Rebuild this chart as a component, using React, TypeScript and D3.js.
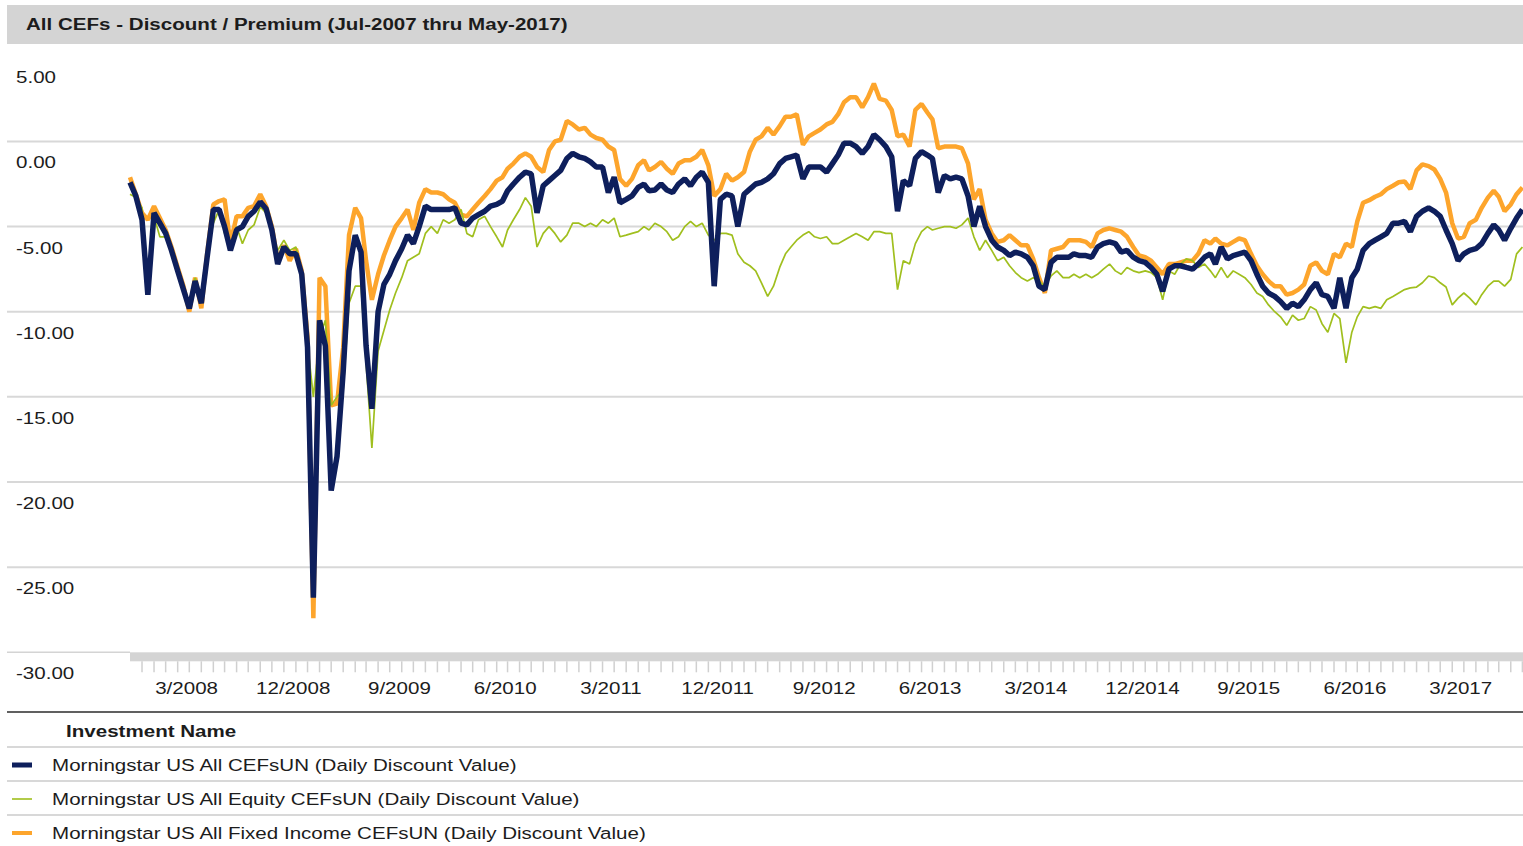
import { useEffect, useRef } from "react";
import * as d3 from "d3";

// Morningstar-style CEF discount/premium chart, half-month samples Jul-2007 .. May-2017

const W = 1523;
const H = 846;

const TITLE = "All CEFs - Discount / Premium (Jul-2007 thru May-2017)";
const LEGEND_HEADER = "Investment Name";

const SERIES_NAMES = [
  "Morningstar US All CEFsUN (Daily Discount Value)",
  "Morningstar US All Equity CEFsUN (Daily Discount Value)",
  "Morningstar US All Fixed Income CEFsUN (Daily Discount Value)",
];

const Y_TICKS = [5, 0, -5, -10, -15, -20, -25, -30];
const X_LABELS = ["3/2008", "12/2008", "9/2009", "6/2010", "3/2011", "12/2011", "9/2012",
  "6/2013", "3/2014", "12/2014", "9/2015", "6/2016", "3/2017"];

// first and last sample (samples on the 1st and 16th of each month)
const START = "2007-07-01";
const END = "2017-05-01";

const ALL_CEFS = [
  -2.4, -3.2, -4.6, -9.0, -4.2, -4.8, -5.4, -6.4, -7.6, -8.7,
  -9.8, -8.2, -9.5, -6.8, -4.0, -4.0, -5.0, -6.4, -5.2, -5.0,
  -4.4, -4.1, -3.55, -3.95, -5.2, -7.2, -6.2, -6.6, -6.6, -7.8,
  -12.1, -26.8, -10.5, -12.0, -20.5, -18.5, -13.5, -7.6, -5.5, -6.5,
  -12.0, -15.7, -10.0, -8.4, -7.8, -7.0, -6.3, -5.5, -6.0, -5.0,
  -3.8, -4.0, -4.0, -4.0, -4.0, -3.9, -4.8, -4.9, -4.5, -4.3,
  -4.1, -3.8, -3.7, -3.5, -2.9, -2.5, -2.1, -1.8, -1.9, -4.2,
  -2.6, -2.3, -2.0, -1.7, -1.0, -0.7, -0.9, -1.0, -1.2, -1.5,
  -1.5, -3.0, -2.1, -3.6, -3.4, -3.2, -2.7, -2.5, -2.9, -2.85,
  -2.5, -2.85, -3.0, -2.5, -2.2, -2.6, -2.1, -1.8, -2.4, -8.5,
  -3.4, -3.1, -3.2, -5.0, -3.1, -2.8, -2.5, -2.4, -2.2, -1.9,
  -1.3, -1.0, -0.9, -0.8, -2.2, -1.5, -1.5, -1.5, -1.8, -1.3,
  -0.8, -0.1, -0.1, -0.3, -0.7, -0.3, 0.4, 0.1, -0.3, -0.9,
  -4.1, -2.3, -2.6, -1.0, -0.6, -0.8, -1.0, -3.0, -2.0, -2.2,
  -2.1, -2.2, -3.2, -5.0, -3.8, -5.0, -5.8, -6.2, -6.4, -6.7,
  -6.5, -6.6, -6.8, -7.3, -8.5, -8.7, -7.1, -6.8, -6.8, -6.8,
  -6.6, -6.7, -6.7, -6.8, -6.2, -6.0, -5.9, -6.0, -6.5, -6.4,
  -6.8, -7.0, -7.1, -7.4, -7.8, -8.8, -7.5, -7.3, -7.3, -7.4,
  -7.5, -7.2, -6.8, -6.6, -7.2, -6.2, -6.9, -6.7, -6.6, -6.5,
  -7.0, -7.8, -8.5, -8.9, -9.1, -9.4, -9.8, -9.5, -9.7, -9.3,
  -8.7, -8.3, -9.0, -9.1, -9.8, -8.0, -9.8, -8.0, -7.5, -6.4,
  -6.0, -5.8, -5.6, -5.4, -4.8, -4.8, -4.7, -5.3, -4.4, -4.1,
  -3.9, -4.1, -4.4, -5.2, -6.0, -7.0, -6.6, -6.4, -6.3, -6.0,
  -5.4, -4.9, -5.2, -5.8, -5.1, -4.5, -4.0,
];

const EQUITY_CEFS = [
  -3.1, -3.3, -3.9, -9.0, -4.4, -5.6, -5.6, -6.4, -7.8, -8.5,
  -9.5, -8.0, -9.2, -6.6, -4.8, -4.0, -5.4, -6.2, -5.0, -6.0,
  -5.2, -4.9, -3.85, -4.2, -5.4, -6.4, -5.8, -6.4, -6.2, -7.6,
  -11.9, -15.0, -11.5, -10.5, -15.5, -15.0, -14.6, -9.5, -8.5, -8.5,
  -13.0, -18.0, -12.3, -11.1, -9.9, -8.9, -8.0, -7.0, -6.8, -6.6,
  -5.4, -5.0, -5.4, -4.6, -4.8, -4.6, -4.0, -5.4, -5.6, -4.6,
  -4.4, -5.0, -5.6, -6.2, -5.2, -4.6, -4.0, -3.3, -3.8, -6.2,
  -5.4, -5.0, -5.4, -5.9, -5.5, -4.8, -4.8, -5.0, -4.8, -5.0,
  -4.6, -4.8, -4.5, -5.6, -5.5, -5.4, -5.3, -5.0, -5.2, -4.8,
  -5.0, -5.3, -5.8, -5.6, -5.0, -4.7, -5.0, -4.8, -5.5, -5.8,
  -5.4, -5.4, -5.5, -6.6, -7.1, -7.3, -7.6, -8.3, -9.1, -8.5,
  -7.4, -6.6, -6.2, -5.8, -5.5, -5.3, -5.6, -5.7, -5.6, -6.0,
  -6.0, -5.8, -5.6, -5.4, -5.6, -5.8, -5.3, -5.3, -5.4, -5.4,
  -8.7, -7.0, -7.2, -6.0, -5.3, -5.0, -5.2, -5.1, -5.0, -5.0,
  -5.1, -4.9, -4.5, -5.6, -6.4, -5.8, -6.4, -7.0, -6.8, -7.3,
  -7.7, -8.0, -8.2, -8.0, -8.2, -8.5, -7.9, -7.6, -8.0, -8.0,
  -7.8, -8.0, -7.8, -8.0, -7.8, -7.5, -7.2, -7.6, -7.8, -7.4,
  -7.6, -7.7, -7.6, -7.7, -8.0, -9.3, -7.6, -7.8, -7.2, -6.9,
  -7.0, -7.4, -7.2, -7.6, -8.0, -7.4, -8.0, -7.6, -7.8, -8.0,
  -8.4, -8.9, -9.1, -9.6, -10.0, -10.3, -10.8, -10.2, -10.5, -10.4,
  -9.7, -9.9, -10.7, -11.2, -10.1, -10.4, -13.0, -11.2, -10.3, -9.7,
  -9.8, -9.7, -9.8, -9.3, -9.1, -8.9, -8.7, -8.6, -8.55, -8.3,
  -7.9, -8.0, -8.3, -8.55, -9.6, -9.2, -8.9, -9.2, -9.6, -9.0,
  -8.5, -8.2, -8.2, -8.5, -8.1, -6.6, -6.2,
];

const FIXED_INCOME_CEFS = [
  -2.1, -3.1, -4.2, -4.6, -3.8, -4.5, -5.2, -6.2, -7.4, -8.5,
  -10.0, -8.0, -9.8, -6.6, -3.7, -3.5, -3.4, -6.0, -4.4, -4.4,
  -3.9, -3.8, -3.1, -3.8, -5.0, -7.0, -6.1, -7.0, -6.3, -7.6,
  -11.5, -28.0, -8.0, -8.5, -15.5, -15.4, -12.1, -5.5, -3.9, -4.5,
  -7.0, -9.3, -7.8, -6.7, -5.8, -5.0, -4.5, -4.0, -5.2, -3.6,
  -2.8, -3.0, -3.0, -3.1, -3.4, -3.6, -4.3, -4.4, -4.0, -3.6,
  -3.2, -2.8, -2.3, -2.1, -1.6, -1.3, -0.9, -0.7, -0.9, -1.5,
  -1.8, -0.5, 0.0, 0.1, 1.2, 1.0, 0.7, 0.8, 0.4, 0.2,
  0.1, -0.3, -0.5, -2.2, -2.6, -2.2, -1.4, -1.1, -1.7, -1.5,
  -1.2, -1.6, -1.9, -1.3, -1.1, -1.1, -0.9, -0.5, -1.4, -3.2,
  -2.8, -1.9, -2.3, -2.1, -1.8, -0.6, 0.1, 0.3, 0.8, 0.4,
  0.9, 1.45, 1.45, 1.6, -0.2, 0.3, 0.5, 0.7, 1.0, 1.15,
  1.6, 2.3, 2.6, 2.6, 2.0, 2.6, 3.4, 2.5, 2.4, 1.85,
  0.3, 0.4, -0.3, 1.85, 2.2, 1.7, 1.3, -0.4, -0.3, -0.3,
  -0.3, -0.4, -1.3, -3.4, -2.8, -4.6, -5.4, -5.9, -5.8, -5.5,
  -5.8, -6.1, -6.1, -6.9, -8.0, -8.9, -6.4, -6.3, -6.2, -5.8,
  -5.8, -5.8, -5.9, -6.2, -5.4, -5.2, -5.1, -5.2, -5.3, -5.6,
  -6.2, -6.7, -6.8, -7.0, -7.4, -7.8, -7.2, -7.2, -7.1, -7.0,
  -7.0, -6.6, -5.8, -6.0, -5.7, -6.0, -6.1, -5.9, -5.7, -5.8,
  -6.6, -7.3, -7.8, -8.2, -8.5, -8.5, -9.0, -8.9, -8.7, -8.4,
  -7.3, -7.1, -7.6, -7.8, -6.6, -6.8, -6.0, -6.2, -4.7, -3.6,
  -3.45, -3.25, -3.1, -2.8, -2.6, -2.4, -2.35, -2.8, -1.7, -1.35,
  -1.45, -1.65, -2.2, -3.0, -4.8, -5.7, -5.6, -4.8, -4.6, -3.9,
  -3.3, -2.9, -3.25, -4.1, -3.7, -3.1, -2.7,
];

const NAVY = "#0e1f5c";
const GREEN = "#a0bf1e";
const ORANGE = "#fda52c";

const FONT = "'Liberation Sans', Arial, sans-serif";
const TEXT_SX = 1.21; // source renders text stretched horizontally

const PLOT = { left: 130, right: 1522.4, top: 56.3, bottom: 652.3 };

function sampleDates(n: number) {
  const start = d3.timeParse("%Y-%m-%d")(START)!;
  return d3.range(n).map((i) => {
    const m = d3.timeMonth.offset(start, Math.floor(i / 2));
    return i % 2 ? d3.timeDay.offset(m, 15) : m;
  });
}

export default function App() {
  const svgRef = useRef<SVGSVGElement>(null);

  useEffect(() => {
    if (!svgRef.current) return;
    const svg = d3.select(svgRef.current);
    svg.selectAll("*").remove();

    const parse = d3.timeParse("%Y-%m-%d");
    const x = d3.scaleTime()
      .domain([parse(START)!, parse(END)!])
      .range([PLOT.left, PLOT.right]);
    const y = d3.scaleLinear().domain([-30, 5]).range([PLOT.bottom, PLOT.top]);

    const text = (px: number, py: number, s: string, size = 17, weight = "400", anchor = "start", fill = "#1c1c1c") =>
      svg.append("text")
        .attr("transform", `translate(${px},${py}) scale(${TEXT_SX},1)`)
        .attr("font-family", FONT)
        .attr("font-size", size)
        .attr("font-weight", weight)
        .attr("text-anchor", anchor)
        .attr("fill", fill)
        .text(s);

    svg.append("rect").attr("width", W).attr("height", H).attr("fill", "#fff");

    // ── Title bar ──
    svg.append("rect")
      .attr("x", 7).attr("y", 5).attr("width", W - 7).attr("height", 39)
      .attr("fill", "#d4d4d4");
    text(26, 30, TITLE, 17, "700");

    // ── Grid lines ──
    Y_TICKS.filter((v) => v < 5 && v > -30).forEach((v) => {
      svg.append("line")
        .attr("x1", 7).attr("x2", W)
        .attr("y1", y(v)).attr("y2", y(v))
        .attr("stroke", "#d8d8d8").attr("stroke-width", 2);
    });

    // ── Y labels (sit just below their grid line) ──
    Y_TICKS.forEach((v) => text(16, y(v) + 27, v.toFixed(2)));

    // ── Series ──
    const n = Math.min(ALL_CEFS.length, EQUITY_CEFS.length, FIXED_INCOME_CEFS.length);
    const dates = sampleDates(n);
    const line = d3.line<number>()
      .x((_, i) => x(dates[i]))
      .y((d) => y(d));

    const series = [
      { values: FIXED_INCOME_CEFS, color: ORANGE, width: 4.5 },
      { values: EQUITY_CEFS, color: GREEN, width: 1.7 },
      { values: ALL_CEFS, color: NAVY, width: 5.5 },
    ];
    series.forEach((s) => {
      svg.append("path")
        .datum(s.values.slice(0, n))
        .attr("d", line)
        .attr("fill", "none")
        .attr("stroke", s.color)
        .attr("stroke-width", s.width)
        .attr("stroke-linejoin", "bevel");
    });

    // ── X axis band + monthly ticks ──
    svg.append("line")
      .attr("x1", 7).attr("x2", PLOT.left)
      .attr("y1", PLOT.bottom).attr("y2", PLOT.bottom)
      .attr("stroke", "#d4d4d4").attr("stroke-width", 1.5);
    svg.append("rect")
      .attr("x", PLOT.left).attr("y", PLOT.bottom)
      .attr("width", W - PLOT.left).attr("height", 9)
      .attr("fill", "#d4d4d4");

    const [d0, d1] = x.domain();
    const months = d3.timeMonth.range(d3.timeMonth.offset(d0, 1), d3.timeMonth.offset(d1, 1));
    svg.append("g")
      .selectAll("line")
      .data(months)
      .enter()
      .append("line")
      .attr("x1", (d) => x(d)).attr("x2", (d) => x(d))
      .attr("y1", PLOT.bottom + 9).attr("y2", PLOT.bottom + 20)
      .attr("stroke", "#d0d0d0").attr("stroke-width", 1.5);

    const parseLabel = d3.timeParse("%m/%Y");
    X_LABELS.forEach((lbl) => {
      text(x(parseLabel(lbl)!) - 38, 694, lbl, 17, "400", "middle");
    });

    // ── Legend table ──
    svg.append("line")
      .attr("x1", 7).attr("x2", W).attr("y1", 712).attr("y2", 712)
      .attr("stroke", "#606060").attr("stroke-width", 2);
    text(66, 737, LEGEND_HEADER, 17, "700");

    const swatch = [
      { color: NAVY, h: 5 },
      { color: GREEN, h: 1.6 },
      { color: ORANGE, h: 4 },
    ];
    SERIES_NAMES.forEach((name, i) => {
      const rowY = 747 + i * 34;
      svg.append("line")
        .attr("x1", 7).attr("x2", W).attr("y1", rowY).attr("y2", rowY)
        .attr("stroke", "#d8d8d8").attr("stroke-width", 2);
      svg.append("rect")
        .attr("x", 12).attr("y", rowY + 18 - swatch[i].h / 2)
        .attr("width", 20).attr("height", swatch[i].h)
        .attr("fill", swatch[i].color);
      text(52, rowY + 24, name);
    });
  }, []);

  return (
    <div style={{ position: "absolute", left: 0, top: 0 }}>
      <svg ref={svgRef} width={W} height={H} style={{ display: "block" }} />
    </div>
  );
}
